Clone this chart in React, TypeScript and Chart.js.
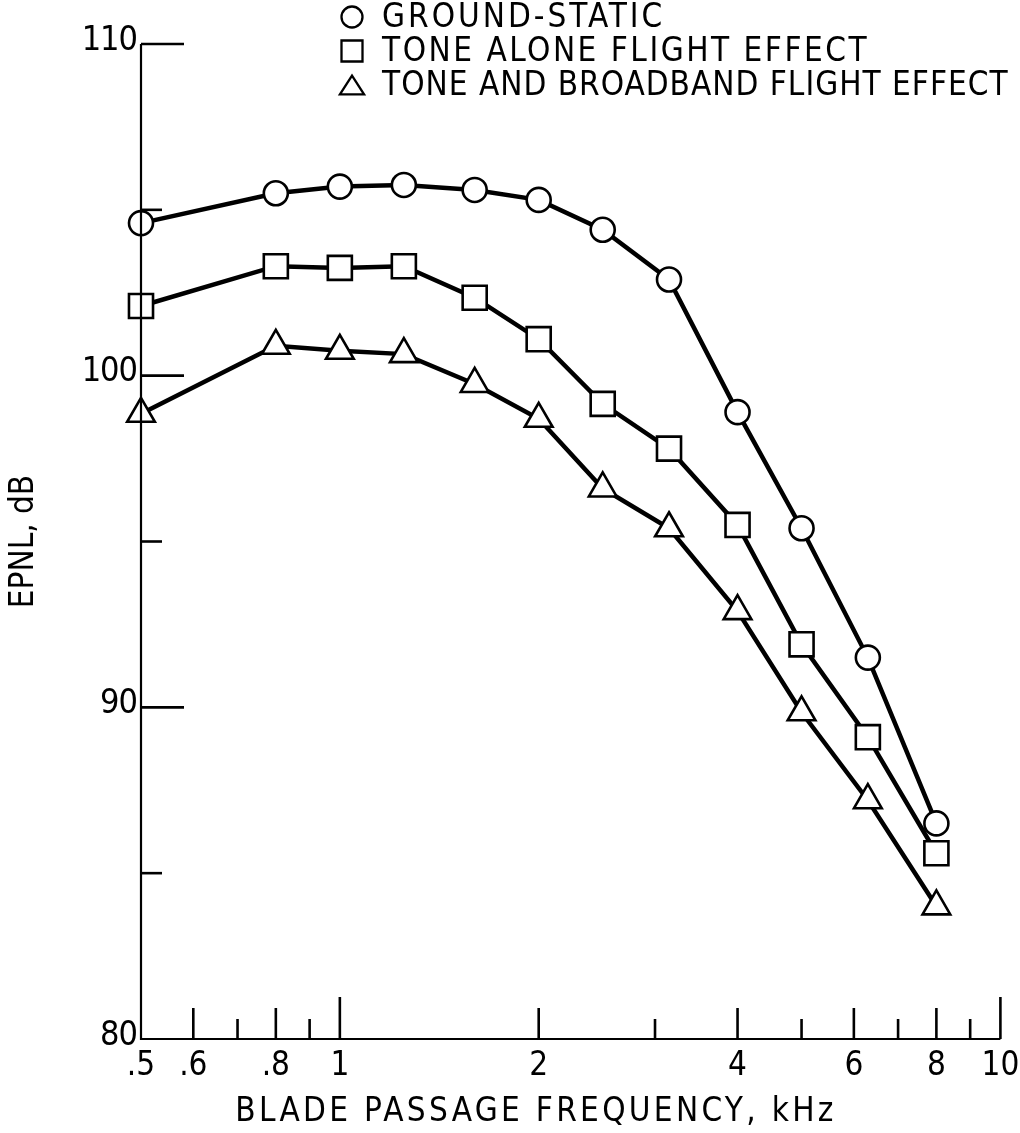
import React, { useEffect, useRef } from "react";
import { Chart, registerables } from "chart.js";

Chart.register(...registerables);

// ---- data ----
const frequencies = [0.5, 0.8, 1.0, 1.25, 1.6, 2.0, 2.5, 3.15, 4.0, 5.0, 6.3, 8.0];
const groundStatic = [104.6, 105.5, 105.7, 105.75, 105.6, 105.3, 104.4, 102.9, 98.9, 95.4, 91.5, 86.5];
const toneAlone = [102.1, 103.3, 103.25, 103.3, 102.35, 101.1, 99.15, 97.8, 95.5, 91.9, 89.1, 85.6];
const toneBroadband = [98.85, 100.9, 100.75, 100.65, 99.75, 98.7, 96.6, 95.4, 92.9, 89.85, 87.2, 84.0];
const seriesLabels = ["GROUND-STATIC", "TONE ALONE FLIGHT EFFECT", "TONE AND BROADBAND FLIGHT EFFECT"];
const seriesStyles = ["circle", "rect", "triangle"];

const xLabelValues = [0.5, 0.6, 0.8, 1, 2, 4, 6, 8, 10];
const xLabelTexts = [".5", ".6", ".8", "1", "2", "4", "6", "8", "10"];
const xMediumTicks = [0.6, 0.8, 2, 4, 6, 8];
const xShortTicks = [0.7, 0.9, 3, 5, 7, 9];
const xLongTicks = [1, 10];
const yLongTicks = [90, 100, 110];
const yShortTicks = [85, 95, 105];
const yLabelValues = [80, 90, 100, 110];
const yLabelTexts = ["80", "90", "100", "110"];
const xTitle = "BLADE PASSAGE FREQUENCY, kHz";
const yTitle = "EPNL, dB";

const X_MIN = 0.5;
const X_MAX = 10;
const Y_MIN = 80;
const Y_MAX = 110;

const FONT = "'DejaVu Sans Condensed', 'Liberation Sans Narrow', 'DejaVu Sans', sans-serif";
const legendSpacing = [3, 2.5, 1];

function setFont(ctx: CanvasRenderingContext2D, size: number, spacing: number) {
  ctx.font = `${size}px ${FONT}`;
  try {
    (ctx as any).fontStretch = "condensed";
  } catch (e) {}
  (ctx as any).letterSpacing = `${spacing}px`;
}

function drawMarker(ctx: CanvasRenderingContext2D, style: string, x: number, y: number, s: number) {
  ctx.beginPath();
  if (style === "circle") {
    ctx.arc(x, y, s, 0, Math.PI * 2);
  } else if (style === "rect") {
    ctx.rect(x - s, y - s, 2 * s, 2 * s);
  } else {
    const h = s * 1.8;
    ctx.moveTo(x, y - h / 2);
    ctx.lineTo(x + s * 1.15, y + h / 2);
    ctx.lineTo(x - s * 1.15, y + h / 2);
    ctx.closePath();
  }
  ctx.fillStyle = "#fff";
  ctx.fill();
  ctx.stroke();
}

const axesPlugin = {
  id: "customAxes",
  afterDatasetsDraw(chart: any) {
    const ctx: CanvasRenderingContext2D = chart.ctx;
    const xs = chart.scales.x;
    const ys = chart.scales.y;
    const x0 = xs.getPixelForValue(X_MIN);
    const xEnd = xs.getPixelForValue(X_MAX);
    const y0 = ys.getPixelForValue(Y_MIN);
    const yTop = ys.getPixelForValue(Y_MAX);
    ctx.save();
    ctx.strokeStyle = "#000";
    ctx.lineCap = "butt";
    ctx.lineWidth = 2.2;
    ctx.beginPath();
    ctx.moveTo(x0, yTop);
    ctx.lineTo(x0, y0);
    ctx.lineTo(xEnd, y0);
    ctx.stroke();

    ctx.lineWidth = 2.6;
    const xt = (vals: number[], len: number) => {
      vals.forEach((v) => {
        const px = xs.getPixelForValue(v);
        ctx.beginPath();
        ctx.moveTo(px, y0);
        ctx.lineTo(px, y0 - len);
        ctx.stroke();
      });
    };
    xt(xLongTicks, 42);
    xt(xMediumTicks, 31);
    xt(xShortTicks, 20);
    const yt = (vals: number[], len: number) => {
      vals.forEach((v) => {
        const py = ys.getPixelForValue(v);
        ctx.beginPath();
        ctx.moveTo(x0, py);
        ctx.lineTo(x0 + len, py);
        ctx.stroke();
      });
    };
    yt(yLongTicks, 43);
    yt(yShortTicks, 21);

    // tick labels
    ctx.fillStyle = "#000";
    setFont(ctx, 33, 0);
    ctx.textAlign = "center";
    ctx.textBaseline = "middle";
    xLabelValues.forEach((v, i) => {
      ctx.fillText(xLabelTexts[i], xs.getPixelForValue(v), y0 + 27);
    });
    setFont(ctx, 34, -1);
    ctx.textAlign = "right";
    yLabelValues.forEach((v, i) => {
      ctx.fillText(yLabelTexts[i], x0 - 4, ys.getPixelForValue(v) - 3);
    });

    // axis titles
    setFont(ctx, 33, 3.3);
    ctx.textAlign = "center";
    ctx.fillText(xTitle, 536, y0 + 73);
    setFont(ctx, 33, 0);
    ctx.save();
    ctx.translate(24, (yTop + y0) / 2);
    ctx.rotate(-Math.PI / 2);
    ctx.fillText(yTitle, 0, 0);
    ctx.restore();

    // legend
    ctx.textAlign = "left";
    ctx.lineWidth = 2.3;
    seriesLabels.forEach((lab, i) => {
      const cy = 17 + i * 34;
      drawMarker(ctx, seriesStyles[i], 352, cy, 10.5);
      setFont(ctx, 33, legendSpacing[i]);
      ctx.fillStyle = "#000";
      ctx.fillText(lab, 382, cy + 1);
    });
    (ctx as any).letterSpacing = "0px";
    ctx.restore();
  },
};

export default function App() {
  const ref = useRef<HTMLCanvasElement | null>(null);
  useEffect(() => {
    if (!ref.current) return;
    const mk = (data: number[], i: number, radius: number) => ({
      label: seriesLabels[i],
      data: frequencies.map((f, k) => ({ x: f, y: data[k] })),
      borderColor: "#000",
      borderWidth: 4.5,
      pointStyle: seriesStyles[i],
      pointRadius: radius,
      pointBorderWidth: 2.6,
      pointBorderColor: "#000",
      pointBackgroundColor: "#fff",
      tension: 0,
      clip: false,
    });
    const chart = new Chart(ref.current, {
      type: "line",
      data: {
        datasets: [
          mk(groundStatic, 0, 12),
          mk(toneAlone, 1, 17),
          mk(toneBroadband, 2, 16),
        ] as any,
      },
      options: {
        animation: false,
        responsive: false,
        devicePixelRatio: 1,
        layout: { padding: { left: 141, right: 17, top: 44, bottom: 94 } },
        plugins: { legend: { display: false }, tooltip: { enabled: false } },
        scales: {
          x: { type: "logarithmic", min: X_MIN, max: X_MAX, display: false },
          y: { type: "linear", min: Y_MIN, max: Y_MAX, display: false },
        },
      },
      plugins: [axesPlugin],
    });
    return () => chart.destroy();
  }, []);
  return (
    <div style={{ position: "fixed", left: 0, top: 0, width: 1020, height: 1133, background: "#fff" }}>
      <canvas ref={ref} width={1020} height={1133} style={{ width: 1020, height: 1133, display: "block" }} />
    </div>
  );
}
